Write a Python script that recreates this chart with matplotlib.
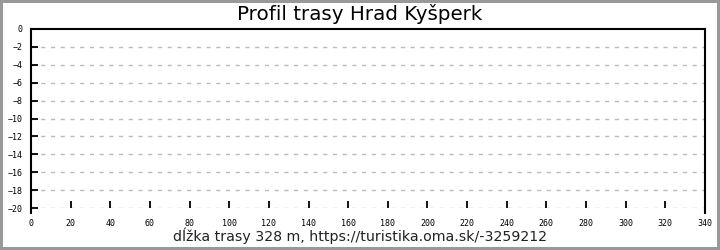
import matplotlib
matplotlib.use("Agg")
import matplotlib.pyplot as plt

# profile data (the reference shows an empty profile)
distance = []
elevation = []
x_ticks = list(range(0, 341, 20))
y_ticks = list(range(0, -21, -2))
title = "Profil trasy Hrad Kyšperk"
xlabel = "dĺžka trasy 328 m, https://turistika.oma.sk/-3259212"

fig = plt.figure(figsize=(7.2, 2.5), dpi=100)
fig.patch.set_edgecolor("#999999")
fig.patch.set_linewidth(3)
ax = fig.add_axes([31 / 720, 1 - 208 / 250, (705 - 31) / 720, (208 - 29) / 250])

ax.plot(distance, elevation, color="#c00000", lw=1)
ax.set_xlim(0, 340)
ax.set_ylim(-20, 0)
ax.set_xticks(x_ticks)
ax.set_yticks(y_ticks)

for y in y_ticks[1:]:
    ax.axhline(y, color="#bbbbbb", lw=1, ls=(0, (3, 4)), zorder=0)

ax.spines["bottom"].set_visible(False)
for s in ("top", "left", "right"):
    ax.spines[s].set_linewidth(1.5)
    ax.spines[s].set_color("black")
ax.spines["left"].set_bounds(-20.6, 0)
ax.spines["right"].set_bounds(-20.6, 0)

ax.tick_params(axis="both", direction="in", length=5, width=1.3,
               labelsize=6)
ax.tick_params(axis="y", pad=6)
ax.tick_params(axis="x", pad=8)
for lab in ax.get_xticklabels() + ax.get_yticklabels():
    lab.set_family("DejaVu Sans Mono")

fig.text(0.5, 1 - 14 / 250, title, ha="center", va="center", fontsize=14.3)
fig.text(0.5, 1 - 236 / 250, xlabel, ha="center", va="center", fontsize=10.2,
         color="#222222")

fig.savefig("out.png", dpi=100, edgecolor=fig.get_edgecolor())
